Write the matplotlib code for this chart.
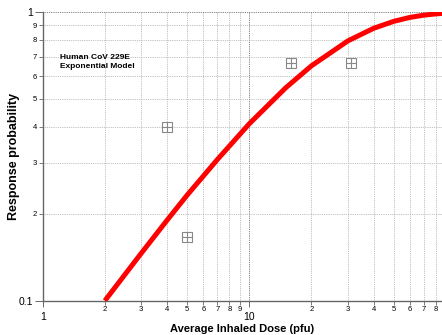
import numpy as np
import matplotlib.pyplot as plt
from matplotlib.ticker import FixedLocator, FixedFormatter

plt.rcParams['font.family'] = ['Liberation Sans', 'DejaVu Sans']

# observed responses (dose in pfu, fraction infected)
obs_dose = [4, 5, 16, 31]
obs_prob = [0.40, 0.166, 0.667, 0.667]

# fitted exponential dose-response curve
fit_dose = [2, 3, 4, 5, 7, 10, 15, 20, 30, 40, 50, 60, 70, 80, 90]
fit_prob = [0.100, 0.146, 0.190, 0.232, 0.308, 0.410, 0.546, 0.651,
            0.794, 0.878, 0.928, 0.958, 0.975, 0.985, 0.991]

x_major = [1, 10]
x_minor = [2, 3, 4, 5, 6, 7, 8, 9, 20, 30, 40, 50, 60, 70, 80]
x_minor_lbl = ['2', '3', '4', '5', '6', '7', '8', '9', '2', '3', '4', '5', '6', '7', '8']
y_major = [0.1, 1]
y_minor = [0.2, 0.3, 0.4, 0.5, 0.6, 0.7, 0.8, 0.9]
y_minor_lbl = ['2', '3', '4', '5', '6', '7', '8', '9']

fig = plt.figure(figsize=(4.42, 3.35), dpi=100)
ax = fig.add_axes([0.0966, 0.1024, 0.9034, 0.8618])
ax.set_xscale('log')
ax.set_yscale('log')
ax.set_xlim(1, 85.7)
ax.set_ylim(0.1, 1)

ax.plot(fit_dose, fit_prob, color='#ff0000', lw=3.6, solid_capstyle='butt', zorder=3)
ax.plot(obs_dose, obs_prob, ls='none', marker='s', ms=7.8, mfc='white', mec='#888888', mew=0.8, zorder=4)
ax.plot(obs_dose, obs_prob, ls='none', marker='+', ms=7.8, mec='#888888', mew=0.8, zorder=5)

ax.xaxis.set_major_locator(FixedLocator(x_major))
ax.xaxis.set_major_formatter(FixedFormatter(['1', '10']))
ax.xaxis.set_minor_locator(FixedLocator(x_minor))
ax.xaxis.set_minor_formatter(FixedFormatter(x_minor_lbl))
ax.yaxis.set_major_locator(FixedLocator(y_major))
ax.yaxis.set_major_formatter(FixedFormatter(['0.1', '1']))
ax.yaxis.set_minor_locator(FixedLocator(y_minor))
ax.yaxis.set_minor_formatter(FixedFormatter(y_minor_lbl))

ax.tick_params(which='major', axis='x', length=4, width=0.7, color='#666666', labelsize=7.5, pad=4)
ax.tick_params(which='minor', axis='x', length=3, width=0.6, color='#666666', labelsize=5.5, pad=1)
ax.tick_params(which='major', axis='y', length=6, width=0.7, color='#666666', labelsize=7.5, pad=1)
ax.tick_params(which='minor', axis='y', length=3, width=0.6, color='#666666', labelsize=5.5, pad=1)

ax.grid(which='major', color='#555555', ls=(0, (1, 1.2)), lw=0.6)
ax.grid(which='minor', color='#aaaaaa', ls=(0, (1, 1.2)), lw=0.6)

for side in ['top', 'right']:
    ax.spines[side].set_visible(False)
for side in ['left', 'bottom']:
    ax.spines[side].set_color('#666666')
    ax.spines[side].set_linewidth(1.0)

ax.text(0.043, 0.827, 'Human CoV 229E\nExponential Model', transform=ax.transAxes,
        fontsize=6, fontweight='bold', va='center', ha='left', linespacing=1.25)

ax.set_xlabel('Average Inhaled Dose (pfu)', fontsize=8, fontweight='bold')
ax.set_ylabel('Response probability', fontsize=9, fontweight='bold')
ax.xaxis.set_label_coords(0.5, -0.098)
ax.yaxis.set_label_coords(-0.072, 0.5)
ax.xaxis.label.set_va('center')
ax.yaxis.label.set_va('center')

fig.savefig('out.png', dpi=100)
